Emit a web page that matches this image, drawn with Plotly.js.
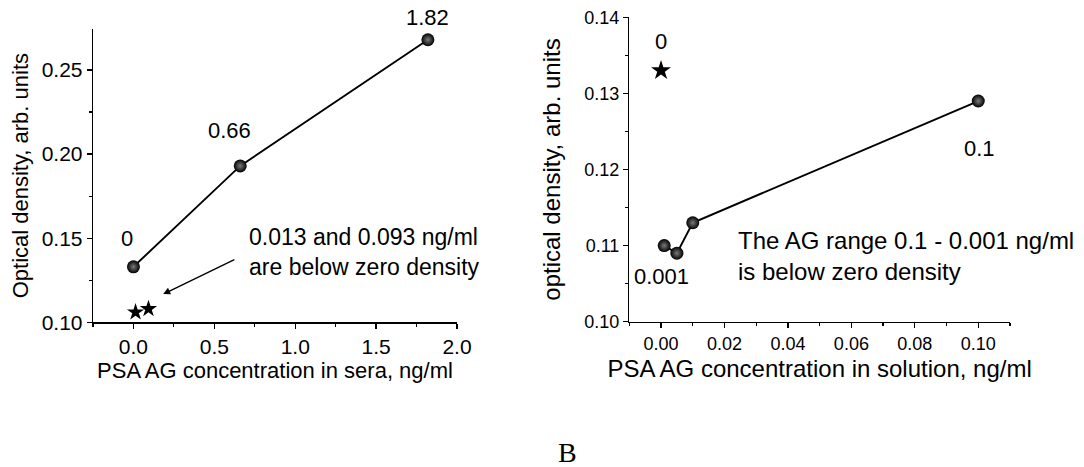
<!DOCTYPE html>
<html>
<head>
<meta charset="utf-8">
<script src="https://cdn.plot.ly/plotly-3.0.1.min.js"></script>
<style>html,body{margin:0;padding:0;background:#fff}#chart{width:1084px;height:467px}</style>
</head>
<body>
<div id="chart"></div>
<script>
// Panel A: PSA AG concentration in sera
var seraConc = [0, 0.66, 1.82];
var seraDensity = [0.133, 0.193, 0.268];
var seraLabels = ['0', '0.66', '1.82'];
var seraBelowConc = [0.013, 0.093];
var seraBelowDensity = [0.106, 0.108];
var seraNote = '0.013 and 0.093 ng/ml<br>are below zero density';

// Panel B: PSA AG concentration in solution
var solConc = [0.001, 0.005, 0.01, 0.1];
var solDensity = [0.110, 0.109, 0.113, 0.129];
var solZeroConc = [0];
var solZeroDensity = [0.133];
var solNote = 'The AG range 0.1 - 0.001 ng/ml<br>is below zero density';

var FONT = 'Liberation Sans, Arial, sans-serif';
var sphere = {symbol: 'circle', size: 13, color: '#000', gradient: {type: 'radial', color: '#7a7a7a'}, line: {width: 0}};

var traces = [
  {x: seraConc, y: seraDensity, xaxis: 'x', yaxis: 'y', mode: 'lines+markers',
   line: {color: '#000', width: 1.9}, marker: sphere},
  {x: seraBelowConc, y: seraBelowDensity, xaxis: 'x', yaxis: 'y', mode: 'markers',
   marker: {symbol: 'star', size: 13, color: '#000', line: {width: 0}}},
  {x: solConc, y: solDensity, xaxis: 'x2', yaxis: 'y2', mode: 'lines+markers',
   line: {color: '#000', width: 1.9}, marker: sphere},
  {x: solZeroConc, y: solZeroDensity, xaxis: 'x2', yaxis: 'y2', mode: 'markers',
   marker: {symbol: 'star', size: 15, color: '#000', line: {width: 0}}}
];

function axisBase(extra) {
  var a = {showline: true, linecolor: '#000', linewidth: 1.3, showgrid: false, zeroline: false,
    ticks: 'outside', ticklen: 5, tickwidth: 1.3, tickcolor: '#000', automargin: false,
    tickfont: {family: FONT, size: 21, color: '#000'}, mirror: false};
  for (var k in extra) a[k] = extra[k];
  return a;
}

var LBL = {family: FONT, size: 22, color: '#000'};
var annotations = [];
// point labels for panel A
var seraShift = [[-6, 28], [-11, 35], [0, 22]];
seraLabels.forEach(function (t, i) {
  annotations.push({xref: 'x', yref: 'y', x: seraConc[i], y: seraDensity[i], text: t, showarrow: false,
    xshift: seraShift[i][0], yshift: seraShift[i][1], font: LBL});
});
// note + arrow panel A
annotations.push({xref: 'paper', yref: 'paper', x: 247 / 1084, y: 1 - 252 / 467, xanchor: 'left', yanchor: 'middle',
  align: 'left', text: seraNote, showarrow: false, font: {family: FONT, size: 23, color: '#000'}});
annotations.push({xref: 'x', yref: 'y', axref: 'x', ayref: 'y', x: 0.184, y: 0.1168, ax: 0.633, ay: 0.1377,
  text: '', showarrow: true, arrowhead: 2, arrowsize: 1, arrowwidth: 1.4, arrowcolor: '#000'});
// panel B labels
annotations.push({xref: 'x2', yref: 'y2', x: solZeroConc[0], y: solZeroDensity[0], text: String(solZeroConc[0]), showarrow: false,
  yshift: 29, font: LBL});
annotations.push({xref: 'x2', yref: 'y2', x: solConc[0], y: solDensity[0], text: String(solConc[0]), showarrow: false,
  xshift: -3, yshift: -31, font: LBL});
annotations.push({xref: 'x2', yref: 'y2', x: solConc[3], y: solDensity[3], text: String(solConc[3]), showarrow: false,
  xshift: 1, yshift: -47, font: LBL});
annotations.push({xref: 'paper', yref: 'paper', x: 736 / 1084, y: 1 - 255.5 / 467, xanchor: 'left', yanchor: 'middle',
  align: 'left', text: solNote, showarrow: false, font: {family: FONT, size: 24, color: '#000'}});
// panel letter
annotations.push({xref: 'paper', yref: 'paper', x: 567 / 1084, y: 1 - 452 / 467, xanchor: 'center', yanchor: 'middle',
  text: 'B', showarrow: false, font: {family: 'Liberation Serif, Times New Roman, serif', size: 28, color: '#000'}});

var TITLE = {family: FONT, size: 22, color: '#000'};
var TITLE2 = {family: FONT, size: 24, color: '#000'};
var layout = {
  width: 1084, height: 467, margin: {l: 0, r: 0, t: 0, b: 0},
  paper_bgcolor: '#fff', plot_bgcolor: 'rgba(0,0,0,0)', showlegend: false,
  font: {family: FONT, color: '#000'},
  xaxis: axisBase({domain: [93 / 1084, 457 / 1084], range: [-0.25, 2.0], tick0: 0, dtick: 0.5, tickformat: '.1f', anchor: 'y',
    minor: {dtick: 0.25, ticks: 'outside', ticklen: 3, tickwidth: 1.2, tickcolor: '#000', showgrid: false},
    title: {text: 'PSA AG concentration in sera, ng/ml', font: TITLE, standoff: 4}}),
  yaxis: axisBase({domain: [(467 - 322.3) / 467, (467 - 29) / 467], range: [0.10, 0.2744], tick0: 0.1, dtick: 0.05, tickformat: '.2f', anchor: 'x',
    minor: {dtick: 0.025, ticks: 'outside', ticklen: 3, tickwidth: 1.2, tickcolor: '#000', showgrid: false},
    title: {text: 'Optical density, arb. units', font: TITLE, standoff: 7}}),
  xaxis2: axisBase({domain: [629.3 / 1084, 1010 / 1084], range: [-0.01, 0.11], tick0: 0, dtick: 0.02, tickformat: '.2f', anchor: 'y2',
    tickfont: {family: FONT, size: 18, color: '#000'},
    minor: {dtick: 0.01, ticks: 'outside', ticklen: 3, tickwidth: 1.2, tickcolor: '#000', showgrid: false},
    title: {text: 'PSA AG concentration in solution, ng/ml', font: TITLE2, standoff: 7}}),
  yaxis2: axisBase({domain: [(467 - 321.7) / 467, (467 - 17.3) / 467], range: [0.10, 0.14], tick0: 0.1, dtick: 0.01, tickformat: '.2f', anchor: 'x2',
    tickfont: {family: FONT, size: 18, color: '#000'},
    minor: {dtick: 0.005, ticks: 'outside', ticklen: 3, tickwidth: 1.2, tickcolor: '#000', showgrid: false},
    title: {text: 'optical density, arb. units', font: TITLE2, standoff: 17}}),
  annotations: annotations
};

Plotly.newPlot('chart', traces, layout, {displayModeBar: false, staticPlot: true});
</script>
</body>
</html>
